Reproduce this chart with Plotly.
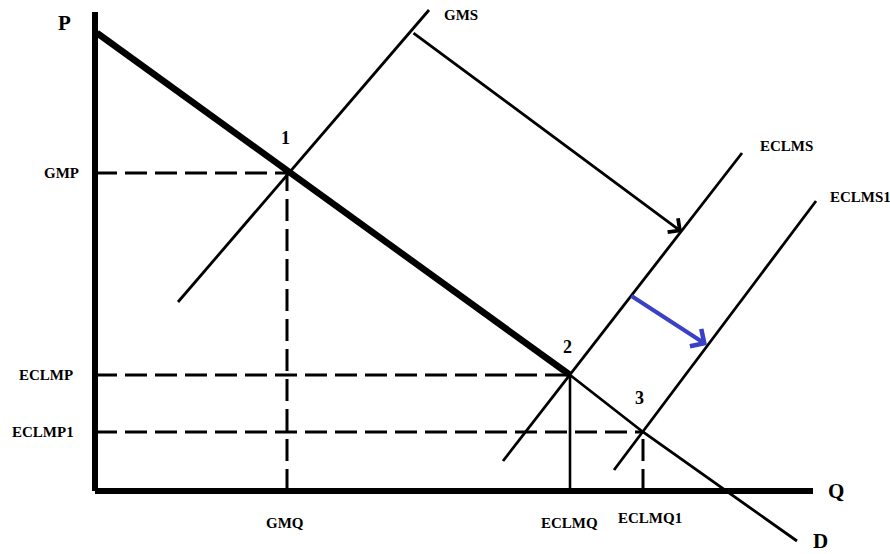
import plotly.graph_objects as go

# Coordinates in (Q, P) diagram units
axis_q_max = 71.8
axis_p_max = 47.9

demand_thick_q = [0.2, 47.5]
demand_thick_p = [45.8, 11.6]
demand_thin_q = [47.5, 54.8, 70.2]
demand_thin_p = [11.6, 5.9, -5.0]

gms_q = [8.3, 33.4]
gms_p = [18.9, 48.1]
eclms_q = [40.8, 64.7]
eclms_p = [3.0, 33.8]
eclms1_q = [51.9, 72.1]
eclms1_p = [2.1, 29.0]

eq_names = ["1", "2", "3"]
eq_q = [19.2, 47.5, 54.8]
eq_p = [31.8, 11.6, 5.9]
eq_label_q = [19.0, 47.2, 54.4]
eq_label_p = [35.3, 14.4, 9.3]

price_labels = ["GMP", "ECLMP", "ECLMP1"]
price_label_q = [-3.4, -4.9, -5.2]
qty_labels = ["GMQ", "ECLMQ", "ECLMQ1"]
qty_label_q = [19.0, 47.4, 55.5]
qty_label_p = [-3.2, -3.2, -2.7]
vertical_styles = ["dash", "solid", "dash"]

black_arrow = [31.7, 45.9, 58.7, 25.9]   # q0, p0, q1, p1
blue_arrow = [53.5, 19.6, 61.2, 14.6]

curve_labels = ["GMS", "ECLMS", "ECLMS1"]
curve_label_q = [36.6, 69.1, 73.3]
curve_label_p = [47.6, 34.5, 29.4]
curve_label_anchor = ["center", "center", "left"]

axis_letters = ["P", "Q", "D"]
axis_letter_q = [-3.1, 74.1, 72.5]
axis_letter_p = [46.8, 0.0, -5.0]

fig = go.Figure()

def seg(q, p, w, dash="solid", color="black"):
    fig.add_trace(go.Scatter(x=q, y=p, mode="lines",
                             line=dict(color=color, width=w, dash=dash),
                             hoverinfo="skip", showlegend=False))

DASH = "22px,8px"

# dashed guides
for i in range(3):
    seg([0, eq_q[i]], [eq_p[i], eq_p[i]], 3, DASH)
    if vertical_styles[i] == "dash":
        seg([eq_q[i], eq_q[i]], [0, eq_p[i]], 3, DASH)
    else:
        seg([eq_q[i], eq_q[i]], [0, eq_p[i]], 2.6)

# axes
seg([0, 0], [0, axis_p_max], 6)
seg([0, axis_q_max], [0, 0], 6)

# supply curves
seg(gms_q, gms_p, 2.8)
seg(eclms_q, eclms_p, 2.8)
seg(eclms1_q, eclms1_p, 2.8)

# demand
seg(demand_thick_q, demand_thick_p, 6.5)
seg(demand_thin_q, demand_thin_p, 2.8)

# arrows
fig.add_annotation(x=black_arrow[2], y=black_arrow[3], ax=black_arrow[0], ay=black_arrow[1],
                   xref="x", yref="y", axref="x", ayref="y", text="", showarrow=True,
                   arrowhead=4, arrowsize=1.2, arrowwidth=2.8, arrowcolor="black")
fig.add_annotation(x=blue_arrow[2], y=blue_arrow[3], ax=blue_arrow[0], ay=blue_arrow[1],
                   xref="x", yref="y", axref="x", ayref="y", text="", showarrow=True,
                   arrowhead=4, arrowsize=1.0, arrowwidth=4, arrowcolor="#3b40c8")

small = dict(family="Liberation Serif", size=15, color="black")
big = dict(family="Liberation Serif", size=21, color="black")
mid = dict(family="Liberation Serif", size=18, color="black")

for i in range(3):
    fig.add_annotation(x=eq_label_q[i], y=eq_label_p[i], text="<b>%s</b>" % eq_names[i],
                       showarrow=False, font=mid)
    fig.add_annotation(x=price_label_q[i], y=eq_p[i], text="<b>%s</b>" % price_labels[i],
                       showarrow=False, font=small)
    fig.add_annotation(x=qty_label_q[i], y=qty_label_p[i], text="<b>%s</b>" % qty_labels[i],
                       showarrow=False, font=small)
    fig.add_annotation(x=curve_label_q[i], y=curve_label_p[i], text="<b>%s</b>" % curve_labels[i],
                       showarrow=False, font=small, xanchor=curve_label_anchor[i])
    fig.add_annotation(x=axis_letter_q[i], y=axis_letter_p[i], text="<b>%s</b>" % axis_letters[i],
                       showarrow=False, font=big)

fig.update_layout(
    width=890, height=554,
    margin=dict(l=0, r=0, t=0, b=0),
    paper_bgcolor="white", plot_bgcolor="white",
    xaxis=dict(range=[-9.5, 79.5], visible=False, fixedrange=True),
    yaxis=dict(range=[-6.3, 49.1], visible=False, fixedrange=True),
    showlegend=False,
)

fig.write_html("out.html", config={"displayModeBar": False},
               post_script="document.body.style.margin='0';document.body.style.overflow='hidden';")
